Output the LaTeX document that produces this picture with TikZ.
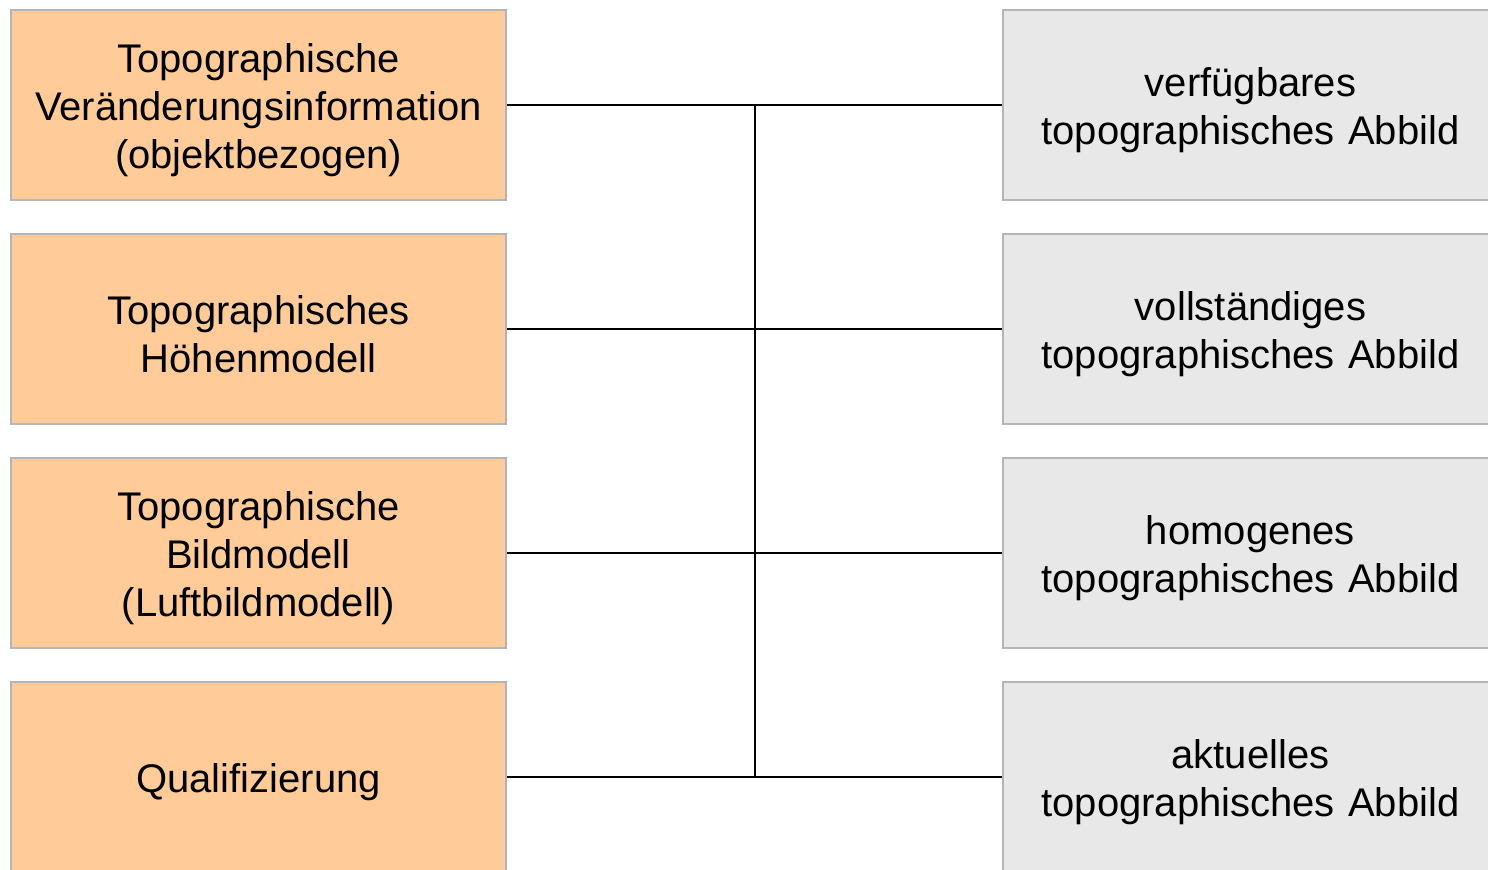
\documentclass[tikz,border=0pt]{standalone}
\usepackage{fontspec}
\setmainfont{Liberation Sans}
\usepackage{xcolor}
\definecolor{cSrc}{HTML}{FFCC99}
\definecolor{cDst}{HTML}{E8E8E8}
\definecolor{cEdge}{HTML}{B5B5B5}
\usetikzlibrary{positioning,calc}
\tikzset{
  node-box/.style={draw=cEdge,line width=1pt,minimum width=247.5pt,
    minimum height=95pt,text width=240pt,align=center,inner sep=0pt,
    font=\fontsize{20}{24}\selectfont,
    execute at begin node={\rule{0pt}{19.5pt}}},
  node-src/.style={node-box,fill=cSrc},
  node-dst/.style={node-box,fill=cDst},
  link/.style={line width=1pt,draw=black},
}
\begin{document}
\begin{tikzpicture}[x=0.5pt,y=-0.5pt,node distance=16pt and 247.5pt]
  \useasboundingbox (0,0) rectangle (1488,869);
  \clip (0,0) rectangle (1488,869);
  % Datenquellen links
  \node[node-src] at (258.5,105) (vinfo) {Topographische\\Veränderungsinformation\\(objektbezogen)};
  \node[node-src,below=of vinfo] (hoehe) {Topographisches\\Höhenmodell};
  \node[node-src,below=of hoehe] (bild)  {Topographische\\Bildmodell\\(Luftbildmodell)};
  \node[node-src,below=of bild]  (quali) {Qualifizierung};
  % Eigenschaften des Abbilds rechts
  \node[node-dst,right=of vinfo] (verf)  {verfügbares\\topographisches Abbild};
  \node[node-dst,right=of hoehe] (voll)  {vollständiges\\topographisches Abbild};
  \node[node-dst,right=of bild]  (homo)  {homogenes\\topographisches Abbild};
  \node[node-dst,right=of quali] (aktu)  {aktuelles\\topographisches Abbild};
  % Verbindungen
  \draw[link] (vinfo) -- (verf);
  \draw[link] (hoehe) -- (voll);
  \draw[link] (bild)  -- (homo);
  \draw[link] (quali) -- (aktu);
  \draw[link] ($(vinfo.east)!0.5!(verf.west)$) -- ($(quali.east)!0.5!(aktu.west)$);
\end{tikzpicture}
\end{document}
